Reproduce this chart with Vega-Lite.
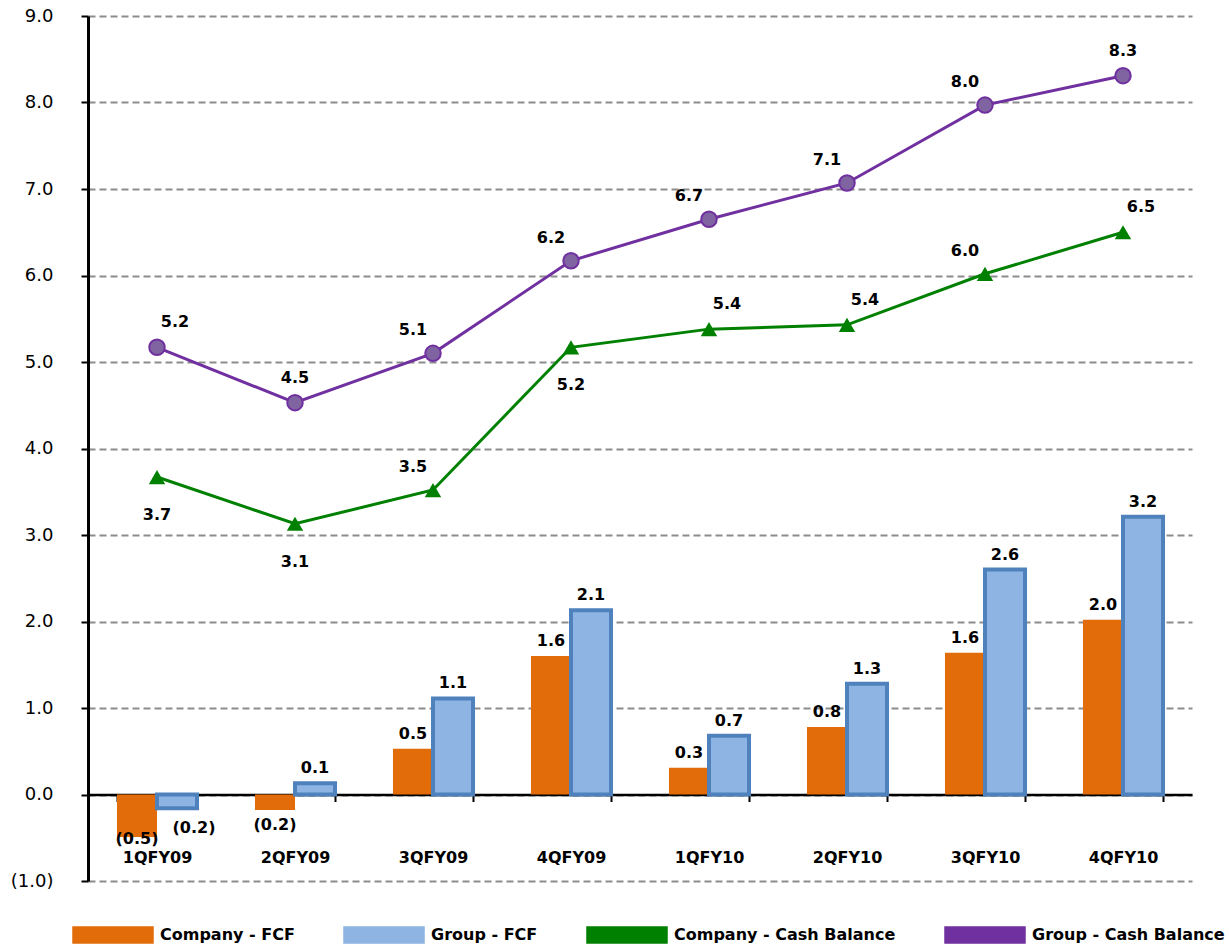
{
  "$schema": "https://vega.github.io/schema/vega-lite/v6.json",
  "width": 1104,
  "height": 865,
  "autosize": {"type": "none"},
  "padding": {"left": 88, "top": 16, "right": 37, "bottom": 71},
  "background": "white",
  "config": {
    "view": {"stroke": null},
    "font": "DejaVu Sans",
    "text": {"font": "DejaVu Sans", "fontWeight": "bold", "fontSize": 16, "color": "#000000"}
  },
  "data": {
    "values": [
      {"quarter": "1QFY09", "series": "Company - FCF", "value": -0.49},
      {"quarter": "2QFY09", "series": "Company - FCF", "value": -0.18},
      {"quarter": "3QFY09", "series": "Company - FCF", "value": 0.53},
      {"quarter": "4QFY09", "series": "Company - FCF", "value": 1.6},
      {"quarter": "1QFY10", "series": "Company - FCF", "value": 0.31},
      {"quarter": "2QFY10", "series": "Company - FCF", "value": 0.78},
      {"quarter": "3QFY10", "series": "Company - FCF", "value": 1.64},
      {"quarter": "4QFY10", "series": "Company - FCF", "value": 2.02},
      {"quarter": "1QFY09", "series": "Group - FCF", "value": -0.16},
      {"quarter": "2QFY09", "series": "Group - FCF", "value": 0.13},
      {"quarter": "3QFY09", "series": "Group - FCF", "value": 1.11},
      {"quarter": "4QFY09", "series": "Group - FCF", "value": 2.13},
      {"quarter": "1QFY10", "series": "Group - FCF", "value": 0.68},
      {"quarter": "2QFY10", "series": "Group - FCF", "value": 1.28},
      {"quarter": "3QFY10", "series": "Group - FCF", "value": 2.6},
      {"quarter": "4QFY10", "series": "Group - FCF", "value": 3.21},
      {"quarter": "1QFY09", "series": "Company - Cash Balance", "value": 3.67},
      {"quarter": "2QFY09", "series": "Company - Cash Balance", "value": 3.13},
      {"quarter": "3QFY09", "series": "Company - Cash Balance", "value": 3.52},
      {"quarter": "4QFY09", "series": "Company - Cash Balance", "value": 5.17},
      {"quarter": "1QFY10", "series": "Company - Cash Balance", "value": 5.38},
      {"quarter": "2QFY10", "series": "Company - Cash Balance", "value": 5.43},
      {"quarter": "3QFY10", "series": "Company - Cash Balance", "value": 6.02},
      {"quarter": "4QFY10", "series": "Company - Cash Balance", "value": 6.5},
      {"quarter": "1QFY09", "series": "Group - Cash Balance", "value": 5.17},
      {"quarter": "2QFY09", "series": "Group - Cash Balance", "value": 4.53},
      {"quarter": "3QFY09", "series": "Group - Cash Balance", "value": 5.1},
      {"quarter": "4QFY09", "series": "Group - Cash Balance", "value": 6.17},
      {"quarter": "1QFY10", "series": "Group - Cash Balance", "value": 6.65},
      {"quarter": "2QFY10", "series": "Group - Cash Balance", "value": 7.07},
      {"quarter": "3QFY10", "series": "Group - Cash Balance", "value": 7.97},
      {"quarter": "4QFY10", "series": "Group - Cash Balance", "value": 8.31}
    ]
  },
  "encoding": {
    "x": {
      "field": "quarter",
      "type": "nominal",
      "sort": ["1QFY09", "2QFY09", "3QFY09", "4QFY09", "1QFY10", "2QFY10", "3QFY10", "4QFY10"],
      "scale": {"paddingInner": 0.42, "paddingOuter": 0.21},
      "axis": {
        "title": null,
        "orient": "bottom",
        "offset": -86.5,
        "labelAngle": 0,
        "labelFont": "DejaVu Sans",
        "labelFontWeight": "bold",
        "labelFontSize": 16,
        "labelColor": "#000000",
        "labelPadding": 48,
        "domainColor": "#000000",
        "domainWidth": 2.5,
        "tickBand": "extent",
        "tickColor": "#000000",
        "tickSize": 7,
        "tickWidth": 2,
        "grid": false
      }
    },
    "y": {
      "field": "value",
      "type": "quantitative",
      "scale": {"domain": [-1, 9], "nice": false, "zero": false},
      "axis": {
        "title": null,
        "values": [-1, 0, 1, 2, 3, 4, 5, 6, 7, 8, 9],
        "format": "(.1f",
        "labelFont": "DejaVu Sans",
        "labelFontSize": 18,
        "labelColor": "#000000",
        "labelPadding": 28,
        "domainColor": "#000000",
        "domainWidth": 3,
        "tickColor": "#000000",
        "tickSize": 7,
        "tickWidth": 2,
        "grid": true,
        "gridColor": "#8c8c8c",
        "gridDash": [7, 4],
        "gridWidth": 2
      }
    }
  },
  "layer": [
    {
      "transform": [{"filter": {"field": "series", "oneOf": ["Company - FCF", "Group - FCF"]}}],
      "mark": {"type": "bar", "strokeWidth": 4},
      "encoding": {
        "xOffset": {"field": "series", "type": "nominal", "scale": {"domain": ["Company - FCF", "Group - FCF"], "paddingInner": 0, "paddingOuter": 0}},
        "color": {
          "field": "series",
          "type": "nominal",
          "scale": {
            "domain": ["Company - FCF", "Group - FCF", "Company - Cash Balance", "Group - Cash Balance"],
            "range": ["#e36c0a", "#8db4e2", "#008000", "#7030a0"]
          },
          "legend": {
            "title": null,
            "orient": "none",
            "direction": "horizontal",
            "columns": 4,
            "legendX": -16,
            "legendY": 898,
            "columnPadding": 46,
            "symbolSize": 1600,
            "symbolType": "M-1,-0.4H3V0.4H-1Z",
            "labelOffset": 46,
            "labelLimit": 400,
            "labelFont": "DejaVu Sans",
            "labelFontWeight": "bold",
            "labelFontSize": 16,
            "labelColor": "#000000"
          }
        },
        "stroke": {
          "condition": {"test": "datum.series == 'Group - FCF'", "value": "#4f81bd"},
          "value": null
        }
      }
    },
    {
      "transform": [{"filter": {"field": "series", "oneOf": ["Company - Cash Balance", "Group - Cash Balance"]}}],
      "mark": {"type": "line", "strokeWidth": 3},
      "encoding": {
        "color": {
          "field": "series",
          "type": "nominal",
          "scale": {
            "domain": ["Company - FCF", "Group - FCF", "Company - Cash Balance", "Group - Cash Balance"],
            "range": ["#e36c0a", "#8db4e2", "#008000", "#7030a0"]
          },
          "legend": null
        }
      }
    },
    {
      "transform": [{"filter": {"field": "series", "equal": "Company - Cash Balance"}}],
      "mark": {"type": "point", "shape": "triangle-up", "filled": true, "size": 270, "color": "#008000", "opacity": 1},
      "encoding": {}
    },
    {
      "transform": [{"filter": {"field": "series", "equal": "Group - Cash Balance"}}],
      "mark": {"type": "point", "shape": "circle", "filled": true, "size": 240, "fill": "#8064a2", "stroke": "#7030a0", "strokeWidth": 2, "opacity": 1},
      "encoding": {}
    },
    {
      "transform": [
        {"filter": {"field": "series", "oneOf": ["Company - FCF", "Group - FCF"]}},
        {"filter": "datum.value >= 0"}
      ],
      "mark": {"type": "text", "baseline": "bottom", "dy": -7},
      "encoding": {
        "xOffset": {"field": "series", "type": "nominal", "scale": {"domain": ["Company - FCF", "Group - FCF"], "paddingInner": 0, "paddingOuter": 0}},
        "text": {"field": "value", "type": "quantitative", "format": "(.1f"}
      }
    },
    {
      "transform": [{"filter": "datum.series == 'Company - FCF' && datum.quarter == '1QFY09'"}],
      "mark": {"type": "text", "baseline": "middle", "dy": 2},
      "encoding": {
        "xOffset": {"field": "series", "type": "nominal", "scale": {"domain": ["Company - FCF", "Group - FCF"], "paddingInner": 0, "paddingOuter": 0}},
        "text": {"field": "value", "type": "quantitative", "format": "(.1f"}
      }
    },
    {
      "transform": [{"filter": "datum.series == 'Company - FCF' && datum.quarter == '2QFY09'"}],
      "mark": {"type": "text", "baseline": "middle", "dy": 15},
      "encoding": {
        "xOffset": {"field": "series", "type": "nominal", "scale": {"domain": ["Company - FCF", "Group - FCF"], "paddingInner": 0, "paddingOuter": 0}},
        "text": {"field": "value", "type": "quantitative", "format": "(.1f"}
      }
    },
    {
      "transform": [{"filter": "datum.series == 'Group - FCF' && datum.value < 0"}],
      "mark": {"type": "text", "baseline": "middle", "dx": 17, "dy": 20},
      "encoding": {
        "xOffset": {"field": "series", "type": "nominal", "scale": {"domain": ["Company - FCF", "Group - FCF"], "paddingInner": 0, "paddingOuter": 0}},
        "text": {"field": "value", "type": "quantitative", "format": "(.1f"}
      }
    },
    {
      "transform": [{"filter": "(datum.series == 'Group - Cash Balance' && indexof(['3QFY09','4QFY09','1QFY10','2QFY10','3QFY10'], datum.quarter) >= 0) || (datum.series == 'Company - Cash Balance' && indexof(['3QFY09','3QFY10'], datum.quarter) >= 0)"}],
      "mark": {"type": "text", "dx": -20, "dy": -23},
      "encoding": {"text": {"field": "value", "type": "quantitative", "format": ".1f"}}
    },
    {
      "transform": [{"filter": "(datum.series == 'Group - Cash Balance' && datum.quarter == '1QFY09') || (datum.series == 'Company - Cash Balance' && indexof(['1QFY10','2QFY10','4QFY10'], datum.quarter) >= 0)"}],
      "mark": {"type": "text", "dx": 18, "dy": -25},
      "encoding": {"text": {"field": "value", "type": "quantitative", "format": ".1f"}}
    },
    {
      "transform": [{"filter": "datum.series == 'Group - Cash Balance' && indexof(['2QFY09','4QFY10'], datum.quarter) >= 0"}],
      "mark": {"type": "text", "dx": 0, "dy": -25},
      "encoding": {"text": {"field": "value", "type": "quantitative", "format": ".1f"}}
    },
    {
      "transform": [{"filter": "datum.series == 'Company - Cash Balance' && indexof(['1QFY09','2QFY09','4QFY09'], datum.quarter) >= 0"}],
      "mark": {"type": "text", "dx": 0, "dy": 38},
      "encoding": {"text": {"field": "value", "type": "quantitative", "format": ".1f"}}
    }
  ],
  "resolve": {"scale": {"color": "shared"}}
}
